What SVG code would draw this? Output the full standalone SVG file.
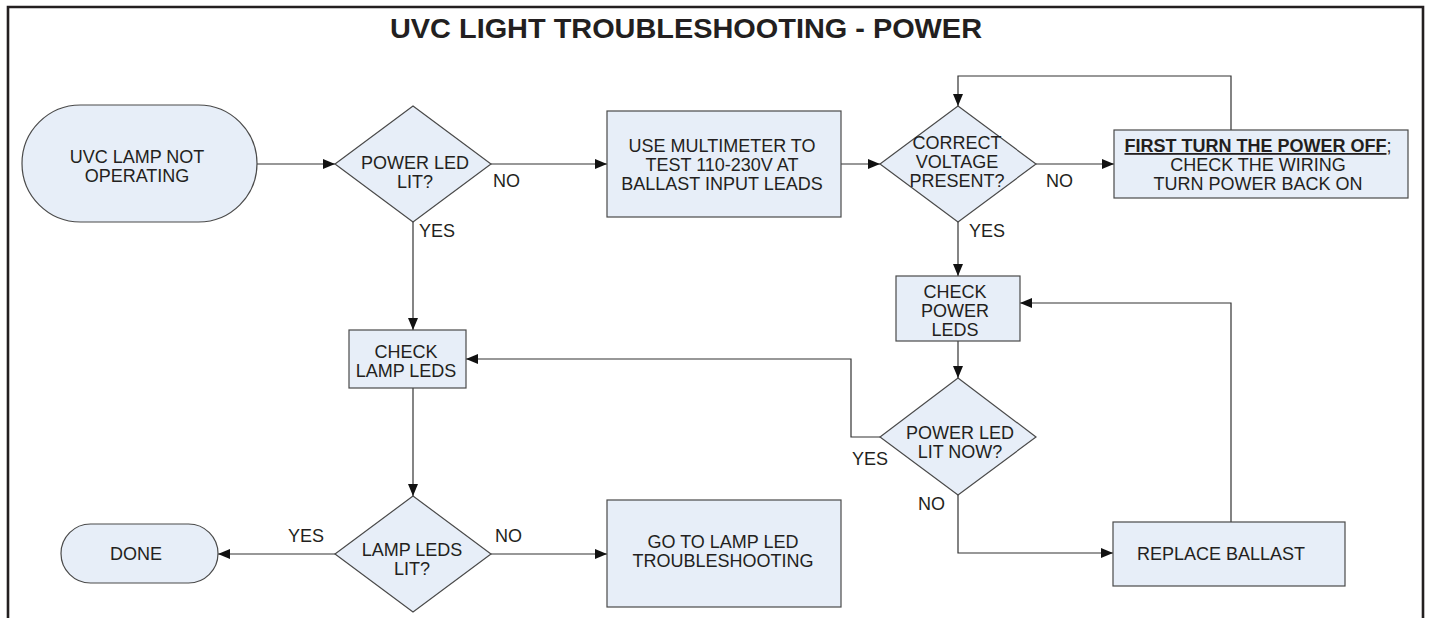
<svg xmlns="http://www.w3.org/2000/svg" width="1429" height="618" viewBox="0 0 1429 618">
<style>
.shape{fill:#e7eef8;stroke:#4a4a4a;stroke-width:1.2}
.t{font-family:"Liberation Sans",Arial,sans-serif;font-size:18px;fill:#231f20;text-anchor:middle}
.lbl{font-family:"Liberation Sans",Arial,sans-serif;font-size:18px;fill:#231f20}
.c{fill:none;stroke:#333;stroke-width:1.2}
.frame{fill:none;stroke:#231f20;stroke-width:2.6}
</style>
<defs>
<marker id="arr" markerWidth="12" markerHeight="10" refX="12" refY="5" orient="auto" markerUnits="userSpaceOnUse">
<path d="M0,0 L12,5 L0,10 z" fill="#111"/>
</marker>
</defs>
<rect width="1429" height="618" fill="#fff"/>
<path class="frame" d="M8,618 V7 H1423 V618"/>
<text x="390" y="38" textLength="592" lengthAdjust="spacingAndGlyphs" style="font-family:'Liberation Sans',Arial,sans-serif;font-size:28.5px;font-weight:bold;fill:#231f20">UVC LIGHT TROUBLESHOOTING - POWER</text>

<g id="connectors">
<path class="c" d="M257,164 H335" marker-end="url(#arr)"/>
<path class="c" d="M491,164 H607" marker-end="url(#arr)"/>
<path class="c" d="M841,164 H880" marker-end="url(#arr)"/>
<path class="c" d="M1036,164 H1114" marker-end="url(#arr)"/>
<path class="c" d="M1231,130 V76 H958 V106" marker-end="url(#arr)"/>
<path class="c" d="M958,222 V276" marker-end="url(#arr)"/>
<path class="c" d="M958,341 V378" marker-end="url(#arr)"/>
<path class="c" d="M880,437 H851 V359 H466" marker-end="url(#arr)"/>
<path class="c" d="M958,495 V553 H1113" marker-end="url(#arr)"/>
<path class="c" d="M1231,522 V303 H1020" marker-end="url(#arr)"/>
<path class="c" d="M413,222 V330" marker-end="url(#arr)"/>
<path class="c" d="M413,388 V496" marker-end="url(#arr)"/>
<path class="c" d="M335,554 H218" marker-end="url(#arr)"/>
<path class="c" d="M491,554 H607" marker-end="url(#arr)"/>
<text class="lbl" x="493" y="187">NO</text>
<text class="lbl" x="419" y="237">YES</text>
<text class="lbl" x="1046" y="187">NO</text>
<text class="lbl" x="969" y="237">YES</text>
<text class="lbl" x="852" y="465">YES</text>
<text class="lbl" x="918" y="510">NO</text>
<text class="lbl" x="288" y="542">YES</text>
<text class="lbl" x="495" y="542">NO</text>
</g>

<g id="start">
<rect class="shape" x="22" y="105" width="235" height="117" rx="58.5" ry="58.5"/>
<text class="t" x="137" y="163">UVC LAMP NOT</text>
<text class="t" x="137" y="182">OPERATING</text>
</g>

<g id="d-power-led">
<polygon class="shape" points="413,106 491,164 413,222 335,164"/>
<text class="t" x="415" y="169">POWER LED</text>
<text class="t" x="415" y="188">LIT?</text>
</g>

<g id="multimeter">
<rect class="shape" x="607" y="111" width="234" height="106"/>
<text class="t" x="722" y="152">USE MULTIMETER TO</text>
<text class="t" x="722" y="171">TEST 110-230V AT</text>
<text class="t" x="722" y="190">BALLAST INPUT LEADS</text>
</g>

<g id="d-voltage">
<polygon class="shape" points="958,106 1036,164 958,222 880,164"/>
<text class="t" x="957" y="149">CORRECT</text>
<text class="t" x="957" y="168">VOLTAGE</text>
<text class="t" x="957" y="187">PRESENT?</text>
</g>

<g id="wiring">
<rect class="shape" x="1114" y="130" width="294" height="68"/>
<text class="t" x="1258" y="152"><tspan font-weight="bold" text-decoration="underline">FIRST TURN THE POWER OFF</tspan>;</text>
<text class="t" x="1258" y="171">CHECK THE WIRING</text>
<text class="t" x="1258" y="190">TURN POWER BACK ON</text>
</g>

<g id="check-power">
<rect class="shape" x="896" y="276" width="124" height="65"/>
<text class="t" x="955" y="298">CHECK</text>
<text class="t" x="955" y="317">POWER</text>
<text class="t" x="955" y="336">LEDS</text>
</g>

<g id="d-power-now">
<polygon class="shape" points="958,378 1036,437 958,495 880,437"/>
<text class="t" x="960" y="439">POWER LED</text>
<text class="t" x="960" y="458">LIT NOW?</text>
</g>

<g id="replace">
<rect class="shape" x="1113" y="522" width="232" height="64"/>
<text class="t" x="1221" y="560">REPLACE BALLAST</text>
</g>

<g id="check-lamp">
<rect class="shape" x="349" y="330" width="117" height="58"/>
<text class="t" x="406" y="358">CHECK</text>
<text class="t" x="406" y="377">LAMP LEDS</text>
</g>

<g id="d-lamp">
<polygon class="shape" points="413,496 491,554 413,612 335,554"/>
<text class="t" x="412" y="556">LAMP LEDS</text>
<text class="t" x="412" y="575">LIT?</text>
</g>

<g id="done">
<rect class="shape" x="61" y="524" width="157" height="59" rx="29.5" ry="29.5"/>
<text class="t" x="136" y="560">DONE</text>
</g>

<g id="goto">
<rect class="shape" x="607" y="500" width="234" height="107"/>
<text class="t" x="723" y="548">GO TO LAMP LED</text>
<text class="t" x="723" y="567">TROUBLESHOOTING</text>
</g>
</svg>
